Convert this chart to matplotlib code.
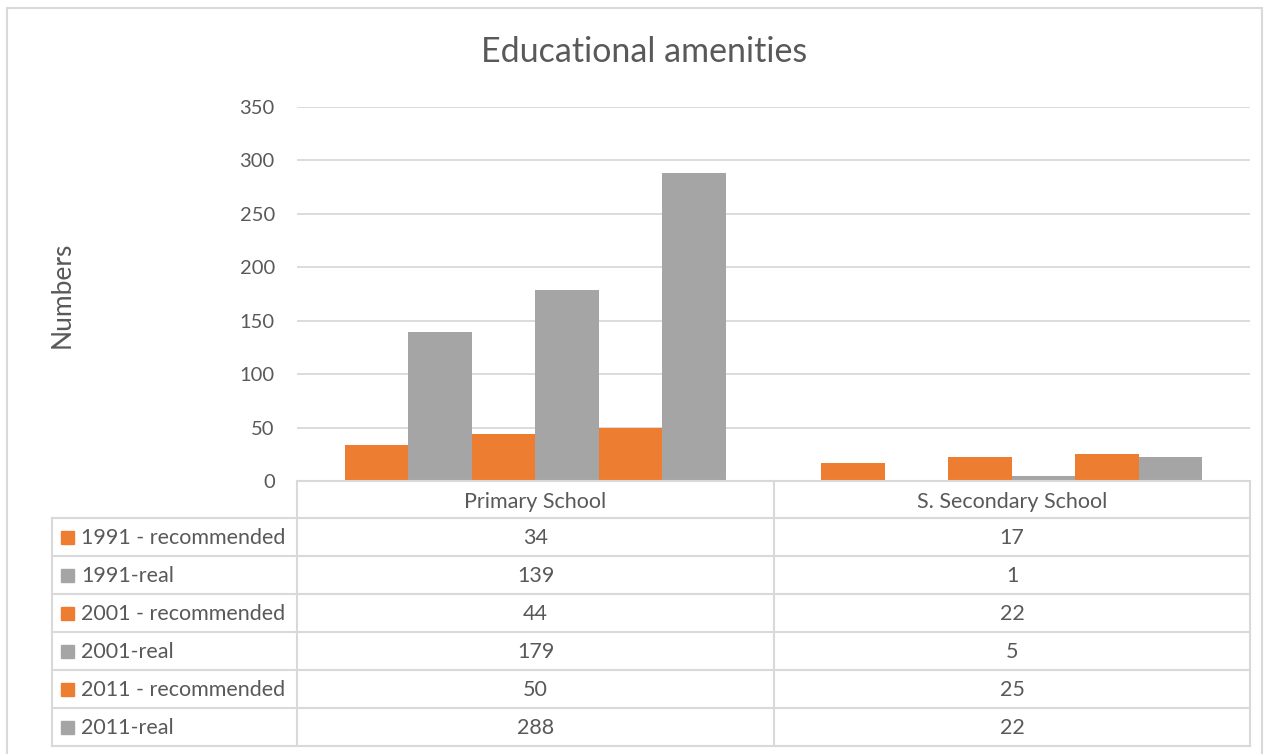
import numpy as np
import matplotlib.pyplot as plt
from matplotlib.patches import Rectangle
from matplotlib.lines import Line2D

plt.rcParams['font.family'] = ['Lato', 'DejaVu Sans']

categories = ["Primary School", "S. Secondary School"]
series = ["1991 - recommended", "1991-real", "2001 - recommended",
          "2001-real", "2011 - recommended", "2011-real"]
values = [
    [34, 17],
    [139, 1],
    [44, 22],
    [179, 5],
    [50, 25],
    [288, 22],
]
colors = ["#ED7D31", "#A5A5A5"] * 3

W, H = 1271, 754
GRID = "#D9D9D9"
TXT = "#595959"
FS = 15.5

fig = plt.figure(figsize=(W / 100, H / 100), dpi=100)

def fx(px):
    return px / W

def fy(py):
    return 1 - py / H

# plot area in pixels
left, right, top, bottom = 297, 1250, 107, 481
ax = fig.add_axes([fx(left), fy(bottom), fx(right - left), fy(top) - fy(bottom)])

n = len(series)
bw = 1 / (n + 1.5)
x = np.arange(len(categories))
for i, (s, v) in enumerate(zip(series, values)):
    ax.bar(x + (i - (n - 1) / 2) * bw, v, width=bw, color=colors[i], zorder=2)

ax.set_xlim(-0.5, len(categories) - 0.5)
ax.set_ylim(0, 350)
ax.set_yticks(range(0, 351, 50))
ax.yaxis.grid(True, color=GRID, linewidth=1.3, zorder=0)
ax.set_xticks([])
for sp in ax.spines.values():
    sp.set_visible(False)
ax.tick_params(axis='y', length=0, pad=16, labelsize=14.5, labelcolor=TXT)

fig.text(fx(644), fy(52), "Educational amenities", ha='center', va='center',
         fontsize=24.5, color=TXT)
fig.text(fx(62), fy(295), "Numbers", rotation=90, ha='center', va='center',
         fontsize=19, color=TXT)

# data table
label_left = 52
row_edges = [481, 518, 556, 594, 632, 670, 708, 746]
col_edges = [left, 774, right]
lw = 1.5

def hline(y, x0, x1):
    fig.add_artist(Line2D([fx(x0), fx(x1)], [fy(y), fy(y)], color=GRID, lw=lw))

def vline(xp, y0, y1):
    fig.add_artist(Line2D([fx(xp), fx(xp)], [fy(y0), fy(y1)], color=GRID, lw=lw))

hline(row_edges[0], left, right)
for y in row_edges[1:]:
    hline(y, label_left, right)
vline(label_left, row_edges[1], row_edges[-1])
for xp in col_edges:
    vline(xp, row_edges[0], row_edges[-1])

for j, c in enumerate(categories):
    xc = (col_edges[j] + col_edges[j + 1]) / 2
    fig.text(fx(xc), fy((row_edges[0] + row_edges[1]) / 2 + 2), c, ha='center',
             va='center', fontsize=FS, color=TXT)

for i, s in enumerate(series):
    yc = (row_edges[i + 1] + row_edges[i + 2]) / 2
    fig.add_artist(Rectangle((fx(61), fy(yc + 6.5)), fx(13), fy(yc - 6.5) - fy(yc + 6.5),
                             color=colors[i], transform=fig.transFigure))
    fig.text(fx(81), fy(yc + 1), s, ha='left', va='center', fontsize=FS, color=TXT)
    for j in range(len(categories)):
        xc = (col_edges[j] + col_edges[j + 1]) / 2
        fig.text(fx(xc), fy(yc + 1), str(values[i][j]), ha='center', va='center',
                 fontsize=FS, color=TXT)

# chart border
fig.add_artist(Rectangle((fx(7), fy(760)), fx(1262 - 7), fy(8) - fy(760),
                         fill=False, edgecolor=GRID, lw=1.5, transform=fig.transFigure))

fig.savefig("out.png", dpi=100)
